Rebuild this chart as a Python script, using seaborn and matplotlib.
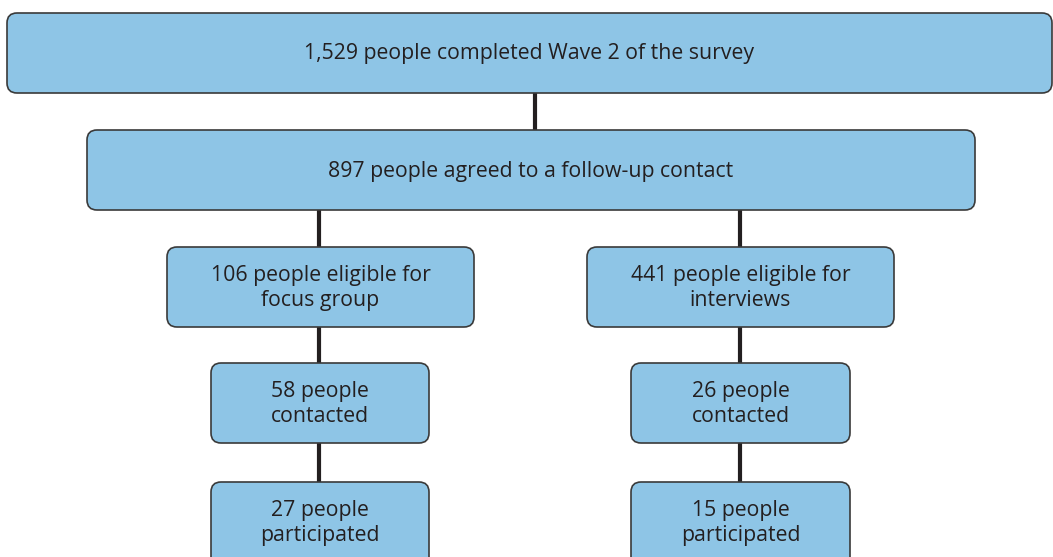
import matplotlib.pyplot as plt
import seaborn as sns
from matplotlib.patches import FancyBboxPatch

# flow data
counts = ["1,529", "897", "106", "441", "58", "26", "27", "15"]
texts = [
    "people completed Wave 2 of the survey",
    "people agreed to a follow-up contact",
    "people eligible for\nfocus group",
    "people eligible for\ninterviews",
    "people\ncontacted",
    "people\ncontacted",
    "people\nparticipated",
    "people\nparticipated",
]
parents = [None, 0, 1, 1, 2, 3, 4, 5]

# layout (pixels: left, top, right, bottom)
boxes = [
    (7, 13, 1052, 93),
    (87, 130, 975, 210),
    (167, 247, 474, 327),
    (587, 247, 894, 327),
    (211, 363, 429, 443),
    (631, 363, 850, 443),
    (211, 482, 429, 570),
    (631, 482, 850, 570),
]
link_x = [None, 535, 319, 740, 319, 740, 319, 740]

sns.set_theme(style="white")
plt.rcParams['font.family'] = ['Open Sans', 'DejaVu Sans']

fig = plt.figure(figsize=(10.53, 5.57), dpi=100)
ax = fig.add_axes([0, 0, 1, 1])
ax.set_xlim(0, 1053)
ax.set_ylim(557, 0)
ax.axis('off')

# connectors first so boxes sit on top
for i, p in enumerate(parents):
    if p is None:
        continue
    x = link_x[i]
    ax.plot([x, x], [boxes[p][3], boxes[i][1]], color='#231f20', lw=3, zorder=1,
            solid_capstyle='butt')

for i, (l, t, r, b) in enumerate(boxes):
    patch = FancyBboxPatch((l, t), r - l, b - t,
                           boxstyle="round,pad=0,rounding_size=10",
                           facecolor='#8ec5e6', edgecolor='#3a3a3a', lw=1.2, zorder=2)
    ax.add_patch(patch)
    cy = (t + min(b, t + 80)) / 2
    ax.text((l + r) / 2, cy + 1, f"{counts[i]} {texts[i]}", ha='center', va='center',
            fontsize=15.3, color='#231f20', linespacing=1.2, zorder=3)

fig.savefig("out.png", dpi=100)
